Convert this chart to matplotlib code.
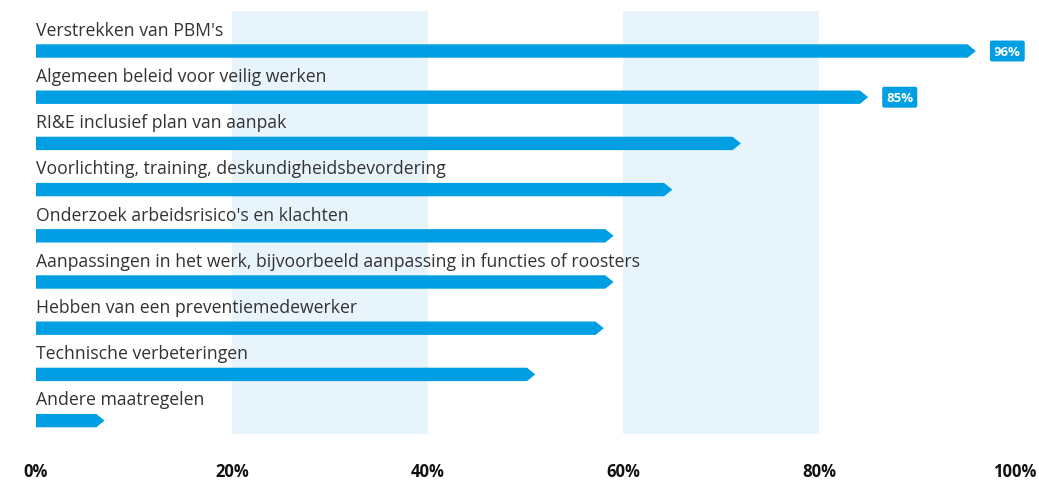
import matplotlib.pyplot as plt
import matplotlib.transforms as mtransforms
from matplotlib.patches import Polygon

plt.rcParams['font.family'] = ['Open Sans', 'DejaVu Sans']

categories = [
    "Verstrekken van PBM's",
    "Algemeen beleid voor veilig werken",
    "RI&E inclusief plan van aanpak",
    "Voorlichting, training, deskundigheidsbevordering",
    "Onderzoek arbeidsrisico's en klachten",
    "Aanpassingen in het werk, bijvoorbeeld aanpassing in functies of roosters",
    "Hebben van een preventiemedewerker",
    "Technische verbeteringen",
    "Andere maatregelen",
]
values = [96, 85, 72, 65, 59, 59, 58, 51, 7]
show_label = [True, True, False, False, False, False, False, False, False]
ticks = [0, 20, 40, 60, 80, 100]
tick_labels = ["0%", "20%", "40%", "60%", "80%", "100%"]

blue = "#009fe3"
band = "#e8f4fc"

fig = plt.figure(figsize=(10.39, 4.81), dpi=100)
ax = fig.add_axes([36 / 1039, 46 / 481, 979 / 1039, 423 / 481])

for lo, hi in [(20, 40), (60, 80)]:
    ax.axvspan(lo, hi, color=band, lw=0, zorder=0)

h = 0.145   # half bar thickness in data units
tip = 0.85  # arrow tip length in %
for i, (cat, v) in enumerate(zip(categories, values)):
    poly = Polygon(
        [(0, i - h), (v - tip, i - h), (v, i), (v - tip, i + h), (0, i + h)],
        closed=True, fc=blue, ec="none", zorder=2,
    )
    ax.add_patch(poly)
    ax.text(0, i - 0.46, cat, ha="left", va="center", fontsize=12.7,
            color="#333333", zorder=3)
    if show_label[i]:
        ax.annotate(f"{v}%", xy=(v, i), xytext=(13, 0), textcoords="offset points",
                    ha="left", va="center", fontsize=9.5, fontweight="bold",
                    color="white", zorder=4,
                    bbox=dict(boxstyle="round,pad=0.3,rounding_size=0.15",
                              fc=blue, ec="none"))
        trans = mtransforms.offset_copy(ax.transData, fig=fig, x=11.5, y=0,
                                        units="points")
        ax.plot([v], [i], marker="<", ms=5, color=blue, mec="none",
                transform=trans, zorder=4)

ax.set_xlim(0, 100)
ax.set_ylim(8.29, -0.866)
ax.set_xticks(ticks)
ax.set_xticklabels(tick_labels, fontsize=12, fontweight="bold", color="#111111")
ax.tick_params(axis="x", length=0, pad=20)
ax.set_yticks([])
for s in ax.spines.values():
    s.set_visible(False)

fig.savefig("out.png", dpi=100)
